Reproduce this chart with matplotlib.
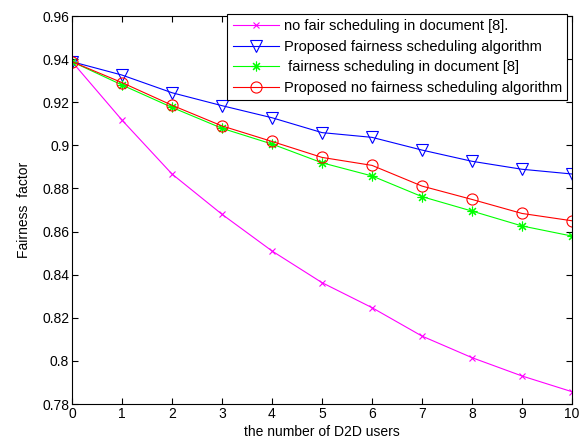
import numpy as np
import matplotlib
matplotlib.use("Agg")
import matplotlib.pyplot as plt

plt.rcParams['font.family'] = ['Liberation Sans', 'DejaVu Sans']

# number of D2D users
users = [0, 1, 2, 3, 4, 5, 6, 7, 8, 9, 10]

# fairness factor
no_fair_doc8 = [0.9388, 0.9117, 0.8867, 0.868, 0.851, 0.8363, 0.8247, 0.8115, 0.8015, 0.793, 0.7857]
proposed_fair = [0.9388, 0.9326, 0.9244, 0.9184, 0.9128, 0.9059, 0.9037, 0.8978, 0.8926, 0.8889, 0.8867]
fair_doc8 = [0.9388, 0.928, 0.9176, 0.9079, 0.9006, 0.8919, 0.8858, 0.8762, 0.8695, 0.8626, 0.8579]
proposed_no_fair = [0.9388, 0.9291, 0.9186, 0.909, 0.9018, 0.8944, 0.8907, 0.8811, 0.8749, 0.8684, 0.865]

labels = ['no fair scheduling in document [8].',
          'Proposed fairness scheduling algorithm',
          ' fairness scheduling in document [8]',
          'Proposed no fairness scheduling algorithm']

fig = plt.figure(figsize=(5.82, 4.45), dpi=100)
ax = fig.add_axes([72/582, 1-404/445, 500/582, 388/445])

lw = 0.8
ax.plot(users, no_fair_doc8, color=(1, 0, 1), lw=lw, marker='x', ms=5, mew=0.8, label=labels[0])
ax.plot(users, proposed_fair, color=(0, 0, 1), lw=lw, marker='v', ms=8, mfc='none', mew=0.8, label=labels[1])
ax.plot(users, fair_doc8, color=(0, 1, 0), lw=lw, marker=(8, 2, 0), ms=7, mew=0.8, label=labels[2])
ax.plot(users, proposed_no_fair, color=(1, 0, 0), lw=lw, marker='o', ms=8, mfc='none', mew=0.8, label=labels[3])

ax.set_xlim(0, 10)
ax.set_ylim(0.78, 0.96)
ax.set_xticks(range(0, 11))
ax.set_yticks([0.78, 0.8, 0.82, 0.84, 0.86, 0.88, 0.9, 0.92, 0.94, 0.96])
ax.set_yticklabels(['0.78', '0.8', '0.82', '0.84', '0.86', '0.88', '0.9', '0.92', '0.94', '0.96'])
ax.tick_params(direction='in', top=True, right=True, labelsize=10, length=4, width=0.8, pad=2)
for s in ax.spines.values():
    s.set_linewidth(0.8)

ax.set_xlabel('the number of D2D users', fontsize=10, labelpad=3)
ax.set_ylabel('Fairness  factor', fontsize=10, labelpad=8)

leg = ax.legend(loc='upper right', bbox_to_anchor=(0.99, 1.005), fontsize=10.5,
                fancybox=False, framealpha=1, edgecolor='black', handlelength=3.2,
                borderpad=0.35, labelspacing=0.45, handletextpad=0.3, borderaxespad=0)
leg.get_frame().set_linewidth(0.8)

fig.savefig('out.png', dpi=100)
